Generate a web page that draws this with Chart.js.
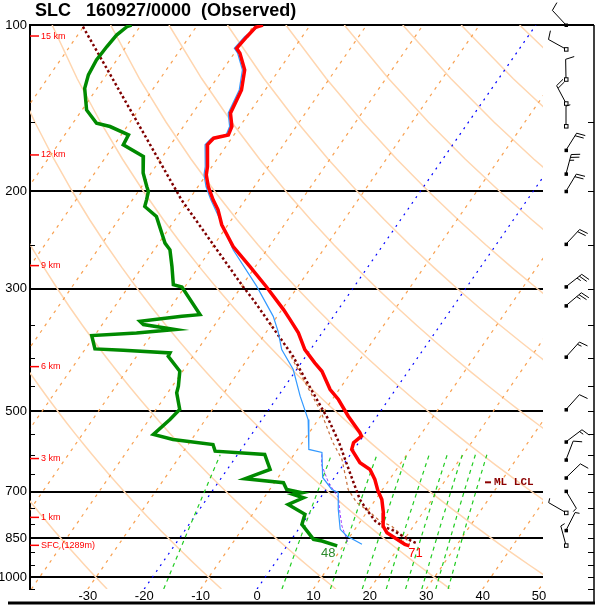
<!DOCTYPE html>
<html>
<head>
<meta charset="utf-8">
<title>SLC 160927/0000 (Observed)</title>
<script src="https://cdn.jsdelivr.net/npm/chart.js@4.4.0/dist/chart.umd.min.js"></script>
<style>
  html, body { margin: 0; padding: 0; background: #fff; }
  #wrap { width: 596px; height: 605px; }
</style>
</head>
<body>
<div id="wrap"><canvas id="skewt"></canvas></div>
<script>
// pressure of the bottom edge and skew of the isotherms (deg C per decade of pressure)
const P_BOTTOM = 1050;
const SKEW = 68;

const pressureLabels = [100, 200, 300, 500, 700, 850, 1000];
const tempTicks = [-30, -20, -10, 0, 10, 20, 30, 40, 50];

// [pressure hPa, deg C]
const temperature = [
  [100, -68.4], [101, -69.4], [105, -69.8], [110.2, -70.2], [112.5, -69.0], [120.6, -66.1],
  [131.1, -64.2], [144.4, -63.3], [152.7, -61.4], [158.1, -61.0], [160.3, -63.2], [164.8, -63.5],
  [180.4, -60.8], [186.7, -60.0], [196.1, -58.2], [207.3, -55.7], [216.1, -53.6], [230, -51.1],
  [251.8, -46.4], [273.6, -41.0], [298.1, -35.5], [327.6, -29.7], [341.6, -27.3], [361, -24.2],
  [387, -21.0], [409.1, -17.6], [423.6, -15.3], [457.1, -11.6], [476.5, -8.9], [510.9, -5.1],
  [547.3, -1.0], [555.2, -0.3], [570.6, -0.9], [586.8, -0.4], [620.2, 2.7], [637.8, 5.3],
  [665, 7.4], [698.1, 9.4], [722.8, 11.1], [763.8, 13.0], [807.6, 14.6], [830.2, 16.1],
  [853.6, 18.7], [871.5, 20.7], [877, 21.7]
];

const dewpoint = [
  [100, -91.7], [100.7, -92.3], [104.3, -93.1], [109.4, -93.4], [115.7, -93.6], [123.1, -93.2],
  [130.2, -92.2], [142.5, -89.2], [150.6, -85.8], [152.7, -83.0], [158.1, -78.7], [164.8, -78.4],
  [173, -73.4], [185.4, -71.4], [196.1, -69.1], [200.2, -68.2], [207.3, -67.5], [213.1, -67.0],
  [222.2, -63.7], [248.3, -58.9], [255.3, -57.2], [273.6, -54.8], [295.3, -52.3], [298.1, -50.5],
  [334.5, -43.9], [336.9, -46.9], [344, -53.7], [348.7, -52.7], [356, -46.5], [361, -52.9],
  [365.1, -60.5], [385.9, -58.3], [388.1, -53.1], [392.4, -44.5], [397.9, -44.4], [423.6, -40.5],
  [451, -38.9], [463.4, -38.4], [496.9, -35.8], [518.1, -36.3], [551.3, -37.4], [563, -33.3],
  [574.8, -25.6], [591, -24.4], [599.3, -15.2], [637.8, -12.4], [663, -15.7], [674.2, -8.4],
  [693.3, -7.0], [703, -3.9], [707.9, -5.2], [717.7, -3.0], [737.9, -4.9], [769.1, -0.7],
  [802, 0.0], [853.6, 3.9], [859.7, 5.6], [877, 8.9]
];

const wetbulb = [
  [100, -68.8], [105, -70.2], [110.2, -70.6], [112.5, -69.4], [120.6, -66.5], [131.1, -64.6],
  [144.4, -63.7], [152.7, -61.8], [158.1, -61.4], [160.3, -63.6], [164.8, -63.9], [180.4, -61.2],
  [186.7, -60.4], [196.1, -58.6], [207.3, -56.1], [225.3, -52.0], [255.3, -46.0], [297.4, -37.3],
  [336.9, -30.7], [358.6, -28.0], [387, -25.1], [420.6, -20.6], [469.9, -16.1], [518.1, -11.8],
  [586.8, -8.0], [594.3, -5.3], [659.5, -2.1], [693.3, 1.0], [702, 2.5], [753.4, 4.6],
  [818.8, 7.4], [841.9, 9.4], [871.5, 13.1]
];

const mlParcel = [
  [100.7, -100.1], [207.3, -61.3], [297.7, -39.7], [314.3, -36.3], [398.4, -22.2], [420.6, -19.4],
  [500.4, -10.1], [518, -8.2], [570, -3.5], [624.7, 0.6], [670.6, 3.8], [722.8, 7.2],
  [753.4, 9.6], [790.9, 12.6], [808.7, 14.6], [822.2, 16.9], [843.1, 19.4], [859.7, 21.5],
  [867.9, 22.7]
];

const sfcParcel = [
  [398.4, -22.6], [500.4, -10.6], [570, -4.6], [611.6, -0.9], [693.3, 3.9], [731.9, 7.0],
  [762.8, 10.6], [790.9, 13.4], [807.6, 16.1], [853.6, 20.4], [870, 21.5]
];

const downdraft = [
  [599, -5.1], [624.7, -3.9], [674.2, -0.4], [717.7, 3.2], [763.8, 5.3], [807.6, 7.3],
  [853.6, 9.8], [871.5, 10.6]
];

const heightMarks = [
  [104.7, '15 km'], [171.9, '12 km'], [272.7, '9 km'], [415.5, '6 km'],
  [609.5, '3 km'], [778.9, '1 km'], [875.2, 'SFC (1289m)']
];

// [pressure, direction deg, speed kt, filled base]
const winds = [
  [100, 317, 10, true], [110.6, 299, 10, false], [125.4, 359, 10, false], [138.6, 332, 20, false],
  [152.4, 0, 5, false], [168.5, 32, 20, true], [186, 15, 25, true], [200, 31, 20, true],
  [249.3, 43, 20, true], [297.7, 52, 25, true], [322.2, 50, 25, true], [399, 42, 15, true],
  [496.9, 42, 10, true], [568.4, 53, 15, true], [612.7, 21, 10, true], [660.4, 46, 10, true],
  [698.2, 149, 3, true], [763.8, 300, 3, false], [822.2, 27, 5, true], [875.2, 345, 5, false]
];

const mlLcl = 673;
const sfcTempF = '71';
const sfcDewF = '48';

// background reference lines
const isotherms = [-100, -90, -80, -70, -60, -50, -40, -30, -10, 10, 20, 30, 40, 50];
const hailIsotherms = [-20, 0];
const dryAdiabats = [-50, -30, -10, 10, 30, 50, 70, 90, 110, 130, 150, 170, 190, 210];
const mixingRatios = [1, 5, 9, 13, 17, 21, 25, 29, 33];

const skewX = (t, p) => t + SKEW * Math.log10(P_BOTTOM / p);
const toPoints = rows => rows.map(([p, t]) => ({ x: skewX(t, p), y: p }));

function levels(top, step) {
  const out = [];
  for (let p = P_BOTTOM; p >= top; p -= step) out.push(p);
  return out;
}

function lineSet(points, color, width, dash) {
  return {
    data: points,
    borderColor: color,
    borderWidth: width,
    borderDash: dash || [],
    pointRadius: 0,
    fill: false,
    tension: 0
  };
}

const datasets = [];

dryAdiabats.forEach(th => {
  const pts = levels(100, 25).map(p => {
    const t = (th + 273.15) * Math.pow(p / 1000, 0.2857) - 273.15;
    return { x: skewX(t, p), y: p };
  });
  datasets.push(lineSet(pts, '#ffd6b0', 1.5));
});

isotherms.forEach(t => {
  datasets.push(lineSet([{ x: skewX(t, P_BOTTOM), y: P_BOTTOM }, { x: skewX(t, 100), y: 100 }], '#f8a050', 1.2, [3, 5]));
});

hailIsotherms.forEach(t => {
  datasets.push(lineSet([{ x: skewX(t, P_BOTTOM), y: P_BOTTOM }, { x: skewX(t, 100), y: 100 }], '#0000ff', 1.2, [2, 5]));
});

mixingRatios.forEach(w => {
  const pts = levels(600, 25).map(p => {
    const e = w * p / (622 + w);
    const l = Math.log(e / 6.112);
    const td = 243.5 * l / (17.67 - l);
    return { x: skewX(td, p), y: p };
  });
  datasets.push(lineSet(pts, '#22cc22', 1.2, [4, 4]));
});

datasets.push(lineSet(toPoints(sfcParcel), '#c8703c', 1.2, [3, 3]));
datasets.push(lineSet(toPoints(mlParcel), '#800000', 2.5, [2.5, 2.5]));
datasets.push(lineSet(toPoints(downdraft), '#a040ff', 1, [3, 2]));
datasets.push(lineSet(toPoints(dewpoint), '#008a00', 3.5));
datasets.push(lineSet(toPoints(wetbulb), '#3399ff', 1.2));
datasets.push(lineSet(toPoints(temperature), '#ff0000', 3.5));

datasets.forEach((d, i) => { d.order = -i; });

function drawBarb(ctx, x, y, dir, spd, filled) {
  const rad = dir * Math.PI / 180;
  const ux = Math.sin(rad), uy = -Math.cos(rad);
  const len = 20;
  const tx = x + ux * len, ty = y + uy * len;
  let bx = -uy + 0.3 * ux, by = ux + 0.3 * uy;
  const bl = Math.hypot(bx, by);
  bx /= bl; by /= bl;

  ctx.beginPath();
  ctx.moveTo(x, y);
  ctx.lineTo(tx, ty);
  let left = Math.round(spd / 5) * 5;
  let pos = 0;
  while (left >= 10) {
    const sx = tx - ux * pos, sy = ty - uy * pos;
    ctx.moveTo(sx, sy);
    ctx.lineTo(sx + bx * 9, sy + by * 9);
    pos += 3;
    left -= 10;
  }
  if (left >= 5) {
    const sx = tx - ux * pos, sy = ty - uy * pos;
    ctx.moveTo(sx, sy);
    ctx.lineTo(sx + bx * 4.5, sy + by * 4.5);
  }
  ctx.stroke();

  if (filled) {
    ctx.fillRect(x - 1.5, y - 1.5, 3.5, 3.5);
  } else {
    ctx.fillStyle = '#fff';
    ctx.fillRect(x - 1.5, y - 1.5, 3.5, 3.5);
    ctx.fillStyle = '#000';
    ctx.strokeRect(x - 1.5, y - 1.5, 3.5, 3.5);
  }
}

const overlay = {
  id: 'overlay',
  afterDraw(chart) {
    const { ctx, chartArea: a, scales: { x, y } } = chart;
    const frameX = 594;
    ctx.save();

    // title
    ctx.fillStyle = '#000';
    ctx.font = 'bold 18px "Liberation Sans", Arial, sans-serif';
    ctx.textBaseline = 'alphabetic';
    ctx.textAlign = 'left';
    ctx.fillText('SLC   160927/0000  (Observed)', 35, 16);

    // frame to the right of the plot
    ctx.strokeStyle = '#000';
    ctx.lineWidth = 2;
    ctx.beginPath();
    ctx.moveTo(a.right, a.top);
    ctx.lineTo(frameX, a.top);
    ctx.stroke();
    ctx.lineWidth = 1.5;
    ctx.beginPath();
    ctx.moveTo(frameX, a.top);
    ctx.lineTo(frameX, 603);
    ctx.stroke();
    ctx.lineWidth = 3;
    ctx.beginPath();
    ctx.moveTo(8, 603);
    ctx.lineTo(frameX + 1, 603);
    ctx.stroke();

    // small pressure ticks every 50 hPa
    ctx.lineWidth = 1;
    ctx.beginPath();
    for (let p = 150; p <= P_BOTTOM; p += 50) {
      const py = Math.round(y.getPixelForValue(p)) + 0.5;
      ctx.moveTo(a.left, py);
      ctx.lineTo(a.left + 5, py);
      ctx.moveTo(frameX - 6, py);
      ctx.lineTo(frameX, py);
    }
    ctx.stroke();

    // heights
    ctx.strokeStyle = '#ff0000';
    ctx.fillStyle = '#ff0000';
    ctx.lineWidth = 1.5;
    ctx.font = '9px "Liberation Sans", Arial, sans-serif';
    ctx.textBaseline = 'middle';
    heightMarks.forEach(([p, label]) => {
      const py = y.getPixelForValue(p);
      ctx.beginPath();
      ctx.moveTo(a.left, py);
      ctx.lineTo(a.left + 9, py);
      ctx.stroke();
      ctx.fillText(label, a.left + 11, py);
    });

    // surface values in F
    const sfcT = temperature[temperature.length - 1];
    const sfcD = dewpoint[dewpoint.length - 1];
    ctx.font = '13px "Liberation Sans", Arial, sans-serif';
    ctx.textAlign = 'center';
    ctx.fillStyle = '#ff0000';
    ctx.fillText(sfcTempF, x.getPixelForValue(skewX(sfcT[1], sfcT[0])) + 6, y.getPixelForValue(sfcT[0]) + 8);
    ctx.fillStyle = '#2a8a2a';
    ctx.fillText(sfcDewF, x.getPixelForValue(skewX(sfcD[1], sfcD[0])) - 9, y.getPixelForValue(sfcD[0]) + 8);

    // ML LCL
    const ly = y.getPixelForValue(mlLcl);
    ctx.strokeStyle = '#8b0000';
    ctx.fillStyle = '#8b0000';
    ctx.lineWidth = 2;
    ctx.beginPath();
    ctx.moveTo(485, ly);
    ctx.lineTo(491, ly);
    ctx.stroke();
    ctx.font = 'bold 11px "Liberation Mono", "Courier New", monospace';
    ctx.textAlign = 'left';
    ctx.fillText('ML LCL', 494, ly);

    // wind barbs
    ctx.strokeStyle = '#000';
    ctx.fillStyle = '#000';
    ctx.lineWidth = 1;
    winds.forEach(([p, dir, spd, filled]) => {
      drawBarb(ctx, 566, y.getPixelForValue(p), dir, spd, filled);
    });

    ctx.restore();
  }
};

new Chart(document.getElementById('skewt'), {
  type: 'line',
  data: { datasets },
  options: {
    responsive: true,
    maintainAspectRatio: false,
    animation: false,
    events: [],
    layout: { padding: { top: 25, right: 53, bottom: 0, left: 0 } },
    plugins: { legend: { display: false }, tooltip: { enabled: false } },
    scales: {
      x: {
        type: 'linear',
        min: -40.25,
        max: 50.7,
        afterFit: s => { s.height = 16; },
        afterBuildTicks: s => { s.ticks = tempTicks.map(v => ({ value: v })); },
        ticks: {
          color: '#000',
          padding: 0,
          maxRotation: 0,
          autoSkip: false,
          font: { family: '"Liberation Sans", Arial, sans-serif', size: 13 },
          callback: v => String(v)
        },
        grid: { display: false, drawTicks: false },
        border: { display: false }
      },
      y: {
        type: 'logarithmic',
        reverse: true,
        min: 100,
        max: P_BOTTOM,
        afterFit: s => { s.width = 30; },
        afterBuildTicks: s => { s.ticks = pressureLabels.map(v => ({ value: v })); },
        ticks: {
          color: '#000',
          padding: 3,
          autoSkip: false,
          font: { family: '"Liberation Sans", Arial, sans-serif', size: 13 },
          callback: v => String(v)
        },
        grid: { color: '#000', lineWidth: 2, drawTicks: false },
        border: { display: true, color: '#000', width: 2 }
      }
    }
  },
  plugins: [overlay]
});
</script>
</body>
</html>
